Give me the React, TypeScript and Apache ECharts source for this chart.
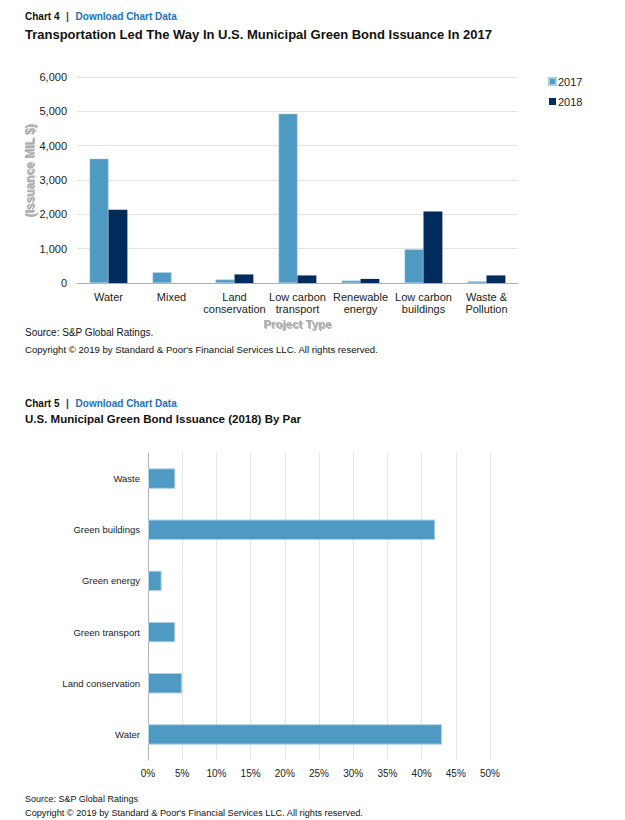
import React, { useEffect, useRef } from "react";
import * as echarts from "echarts";

const projectTypes = ["Water", "Mixed", "Land\nconservation", "Low carbon\ntransport", "Renewable\nenergy", "Low carbon\nbuildings", "Waste &\nPollution"];
const issuance2017 = [3620, 310, 100, 4930, 70, 980, 50];
const issuance2018 = [2130, 0, 250, 220, 120, 2080, 220];
const yTicks1 = [0, 1000, 2000, 3000, 4000, 5000, 6000];

const parCategories = ["Water", "Land conservation", "Green transport", "Green energy", "Green buildings", "Waste"];
const parShare = [43, 5, 4, 2, 42, 4];
const xTicks2 = [0, 5, 10, 15, 20, 25, 30, 35, 40, 45, 50];

const LIGHT = "#4f9ac3";
const DARK = "#002b5c";
const FONT = "Liberation Sans, Arial, sans-serif";

export default function App() {
  const ref = useRef<HTMLDivElement>(null);
  useEffect(() => {
    if (!ref.current) return;
    const chart = echarts.init(ref.current, null, { renderer: "svg" });
    const header = (y: number, n: string) => ({
      type: "text",
      left: 25,
      top: y,
      style: {
        rich: {
          a: { fontFamily: FONT, fontSize: 10, fontWeight: "bold", fill: "#111" },
          b: { fontFamily: FONT, fontSize: 10, fontWeight: "bold", fill: "#1f3a7a" },
          c: { fontFamily: FONT, fontSize: 10, fontWeight: "bold", fill: "#1b72c0" },
        },
        text: `{a|Chart ${n}}  {b||}  {c|Download Chart Data}`,
      },
    });
    const plain = (y: number, text: string, size: number, bold = false) => ({
      type: "text",
      left: 25,
      top: y,
      style: { text, fontFamily: FONT, fontSize: size, fontWeight: bold ? "bold" : "normal", fill: "#111" },
    });
    const nameStyle = {
      fontFamily: FONT,
      fontSize: 11.5,
      fontWeight: "bold",
      fill: "#ababab",
      textShadowColor: "rgba(0,0,0,0.3)",
      textShadowBlur: 1,
      textShadowOffsetX: 1,
      textShadowOffsetY: 1,
    };
    chart.setOption({
      animation: false,
      textStyle: { fontFamily: FONT },
      graphic: [
        header(10, "4"),
        plain(28, "Transportation Led The Way In U.S. Municipal Green Bond Issuance In 2017", 13, true),
        plain(327, "Source: S&P Global Ratings.", 10),
        plain(344, "Copyright © 2019 by Standard & Poor's Financial Services LLC. All rights reserved.", 9.6),
        header(397, "5"),
        plain(413, "U.S. Municipal Green Bond Issuance (2018) By Par", 11.5, true),
        plain(794, "Source: S&P Global Ratings", 9),
        plain(808, "Copyright © 2019 by Standard & Poor's Financial Services LLC. All rights reserved.", 9.2),
        {
          type: "text",
          x: 30,
          y: 171,
          rotation: Math.PI / 2,
          style: { ...nameStyle, fontSize: 12, text: "(Issuance MIL $)", align: "center", verticalAlign: "middle" },
        },
      ],
      legend: {
        orient: "vertical",
        left: 548,
        top: 76,
        padding: 0,
        itemWidth: 7,
        itemHeight: 7,
        itemGap: 9,
        icon: "rect",
        textStyle: { fontSize: 11, color: "#222", padding: [0, 0, 0, -3] },
        data: ["2017", "2018"],
      },
      grid: [
        { left: 77, right: 107, top: 77, height: 206 },
        { left: 148, right: 135, top: 453, height: 307 },
      ],
      xAxis: [
        {
          gridIndex: 0,
          type: "category",
          data: projectTypes,
          axisLine: { lineStyle: { color: "#b0b0b0" } },
          axisTick: { length: 4, lineStyle: { color: "#b0b0b0" } },
          axisLabel: { fontSize: 11, color: "#222", lineHeight: 12, margin: 8, interval: 0 },
          name: "Project Type",
          nameLocation: "middle",
          nameGap: 35,
          nameTextStyle: {
            fontSize: 11.5,
            fontWeight: "bold",
            color: "#ababab",
            textShadowColor: "rgba(0,0,0,0.3)",
            textShadowBlur: 1,
            textShadowOffsetX: 1,
            textShadowOffsetY: 1,
          },
        },
        {
          gridIndex: 1,
          type: "value",
          min: 0,
          max: 50,
          interval: 5,
          axisLine: { show: false },
          axisTick: { show: false },
          axisLabel: { fontSize: 10, color: "#222", margin: 8, formatter: (v: number) => xTicks2.includes(v) ? v + "%" : "" },
          splitLine: { lineStyle: { color: "#e6e6e6" } },
        },
      ],
      yAxis: [
        {
          gridIndex: 0,
          type: "value",
          min: yTicks1[0],
          max: yTicks1[yTicks1.length - 1],
          interval: 1000,
          axisLine: { show: false },
          axisTick: { show: false },
          axisLabel: { fontSize: 11, color: "#222", margin: 10, formatter: (v: number) => v.toLocaleString("en-US") },
          splitLine: { lineStyle: { color: "#e3e3e3" } },
        },
        {
          gridIndex: 1,
          type: "category",
          data: parCategories,
          axisLine: { lineStyle: { color: "#b0b0b0" } },
          axisTick: { length: 4, lineStyle: { color: "#b0b0b0" } },
          axisLabel: { fontSize: 9.5, color: "#222", margin: 8 },
        },
      ],
      series: [
        {
          name: "2017",
          type: "bar",
          xAxisIndex: 0,
          yAxisIndex: 0,
          data: issuance2017,
          barGap: "0%",
          barCategoryGap: "40%",
          itemStyle: { color: LIGHT, borderColor: "#a9cbe0", borderWidth: 0.5 },
        },
        {
          name: "2018",
          type: "bar",
          xAxisIndex: 0,
          yAxisIndex: 0,
          data: issuance2018,
          barGap: "0%",
          barCategoryGap: "40%",
          itemStyle: { color: DARK },
        },
        {
          name: "Share",
          type: "bar",
          xAxisIndex: 1,
          yAxisIndex: 1,
          data: parShare,
          barCategoryGap: "60%",
          itemStyle: { color: LIGHT, borderColor: "#b5d3e6", borderWidth: 1 },
        },
      ],
    });
    return () => chart.dispose();
  }, []);
  return <div ref={ref} style={{ position: "absolute", left: 0, top: 0, width: 625, height: 820, background: "#fff" }} />;
}
